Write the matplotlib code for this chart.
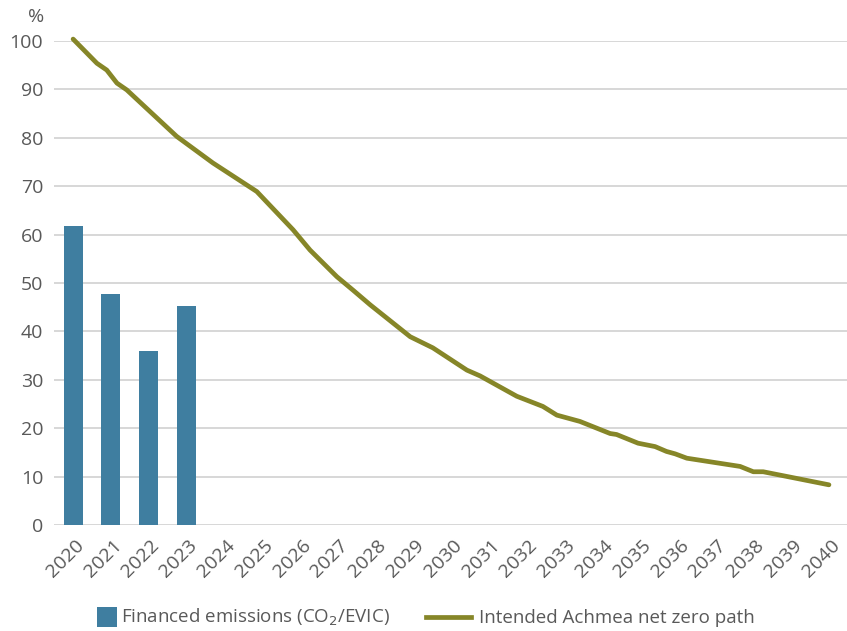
import matplotlib
matplotlib.use('Agg')
import matplotlib.pyplot as plt
import matplotlib.transforms as mtransforms
from matplotlib.patches import Patch, Rectangle
from matplotlib.lines import Line2D
from matplotlib.legend_handler import HandlerPatch

plt.rcParams.update({'font.family': 'Open Sans', 'font.size': 14,
                     'text.color': '#595959', 'xtick.color': '#595959',
                     'ytick.color': '#595959'})

# Categories (years) on the x axis
years = list(range(2020, 2041))

# Financed emissions, indexed to base year (%)
bar_years = [2020, 2021, 2022, 2023]
bar_values = [61.8, 47.7, 36.0, 45.2]

# Intended net zero path (%), sampled within years
path_t = [2020.0, 2020.63, 2020.89, 2021.16, 2021.42, 2022.74, 2023.7, 2024.86,
          2025.82, 2026.27, 2026.98, 2027.41, 2027.86, 2028.92, 2029.52, 2030.42,
          2030.77, 2031.74, 2032.43, 2032.8, 2033.41, 2034.21, 2034.38, 2034.95,
          2035.4, 2035.7, 2035.93, 2036.24, 2037.65, 2038.0, 2038.26, 2040.0]
path_v = [100.4, 95.4, 94.0, 91.3, 89.9, 80.3, 74.8, 68.9,
          61.0, 56.8, 51.3, 48.5, 45.5, 38.9, 36.6, 32.0,
          30.8, 26.6, 24.5, 22.7, 21.4, 18.9, 18.7, 16.9,
          16.2, 15.2, 14.7, 13.8, 12.1, 11.0, 11.0, 8.3]

BAR_COLOR = '#3F7EA0'
LINE_COLOR = '#868628'

fig = plt.figure(figsize=(8.47, 6.31), dpi=100)
ax = fig.add_axes([0.064, 0.168, 0.937, 0.767])

ax.bar(bar_years, bar_values, width=0.5, color=BAR_COLOR, zorder=2)
ax.plot(path_t, path_v, color=LINE_COLOR, lw=3.4, solid_capstyle='round',
        zorder=3, clip_on=False)

ax.set_xlim(2019.5, 2040.5)
ax.set_ylim(0, 100)
ax.set_yticks(range(0, 101, 10))
ax.set_xticks(years)
ax.tick_params(axis='both', length=0, labelsize=14)
ax.tick_params(axis='y', pad=8)
ax.set_xticklabels([str(y) for y in years], rotation=45, ha='right',
                   va='center', rotation_mode='anchor')
# shift the slanted year labels so their ends sit just right of each tick
offset = mtransforms.ScaledTranslation(8 / 100, -13 / 100, fig.dpi_scale_trans)
for lbl in ax.get_xticklabels():
    lbl.set_transform(lbl.get_transform() + offset)

ax.grid(axis='y', color='#D4D4D4', lw=1.3, zorder=0)
for s in ax.spines.values():
    s.set_visible(False)

ax.text(-0.012, 1.05, '%', transform=ax.transAxes, ha='right', va='center',
        fontsize=14, color='#595959')


def square_patch(legend, orig_handle, xdescent, ydescent, width, height, fontsize):
    # square swatch near the right end of the handle box
    side = 20 * 72 / 100
    nudge = 4 * 72 / 100
    return Rectangle((width - xdescent - side + nudge, -ydescent + (height - side) / 2),
                     side, side)


handles = [Patch(facecolor=BAR_COLOR, edgecolor='none'),
           Line2D([0], [0], color=LINE_COLOR, lw=3.4)]
labels = ['Financed emissions (CO$_2$/EVIC)', 'Intended Achmea net zero path']
fig.legend(handles, labels, loc='center left', bbox_to_anchor=(0.080, 0.021),
           ncol=2, frameon=False, fontsize=13.5, handlelength=2.4,
           columnspacing=1.92, handletextpad=0.45, borderpad=0, borderaxespad=0,
           handler_map={Patch: HandlerPatch(patch_func=square_patch)})

fig.savefig('out.png', dpi=100)
